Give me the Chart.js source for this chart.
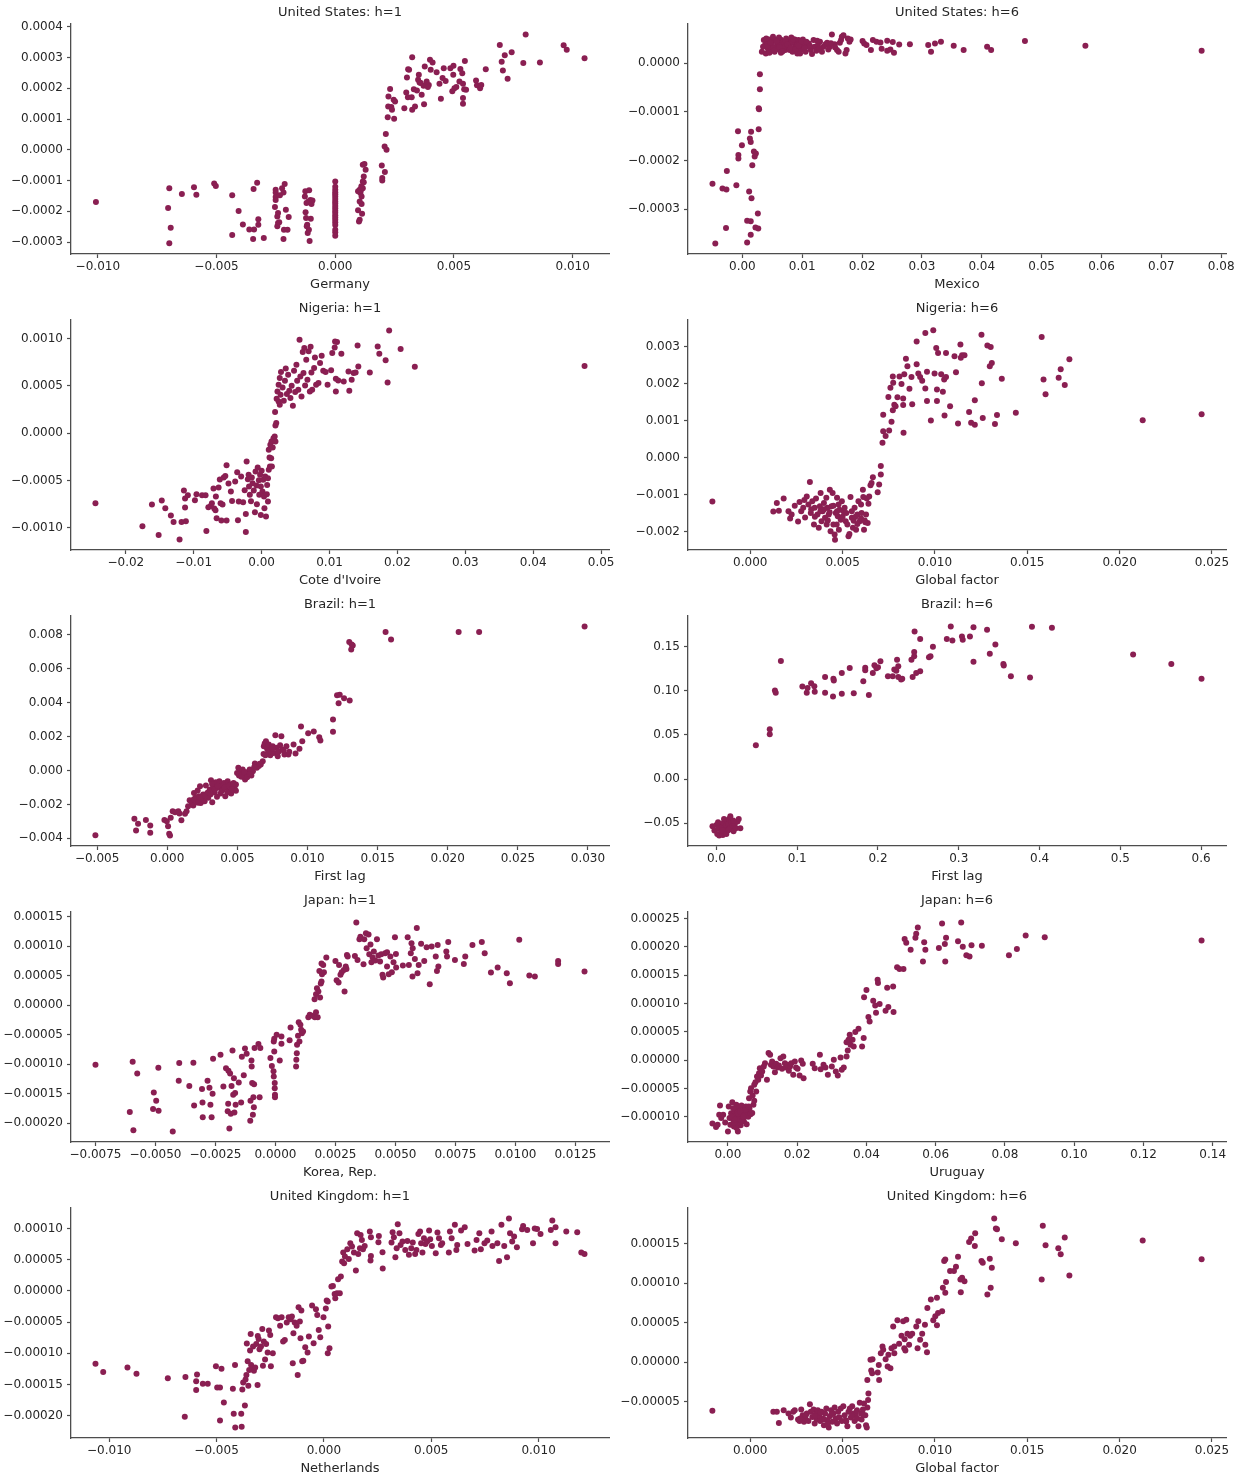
<!DOCTYPE html>
<html>
<head>
<meta charset="utf-8">
<script src="https://cdn.jsdelivr.net/npm/chart.js@4.4.1/dist/chart.umd.min.js"></script>
<style>
  html, body { margin: 0; padding: 0; background: #ffffff; }
  #fig { position: relative; width: 1245px; height: 1477px; }
  #fig canvas { position: absolute; }
</style>
</head>
<body>
<div id="fig"></div>
<script>
// ---- Responses (y) against the selected regressor (x), one list per panel ----

const usH1 = [
  [-0.01008,-0.000170],[-0.00699,-0.000125],[-0.00704,-0.000189],[-0.00693,-0.000254],[-0.00699,-0.000304],
  [-0.00646,-0.000144],[-0.00595,-0.000122],[-0.00585,-0.000146],[-0.0051,-0.00011],[-0.00503,-0.000118],
  [-0.00434,-0.000148],[-0.00434,-0.000277],[-0.00407,-0.000199],[-0.00389,-0.000243],[-0.00362,-0.000259],
  [-0.00346,-0.00029],[-0.00342,-0.000259],[-0.00344,-0.000128],[-0.00329,-0.000107],[-0.00324,-0.000226],
  [-0.00324,-0.000244],[-0.00301,-0.000287],
  [-0.00251,-0.00013],[-0.00251,-0.000139],[-0.00251,-0.000154],[-0.00251,-0.000163],[-0.00254,-0.000186],
  [-0.00244,-0.000217],[-0.00241,-0.000238],[-0.00244,-0.000249],[-0.00241,-0.000206],[-0.00233,-0.000148],
  [-0.00224,-0.000125],[-0.00218,-0.000139],[-0.00213,-0.000111],[-0.00216,-0.00026],[-0.00208,-0.000195],
  [-0.00201,-0.00026],[-0.00218,-0.00029],[-0.00196,-0.000219],[-0.00236,-0.000236],
  [-0.00126,-0.000135],[-0.0011,-0.000132],[-0.00128,-0.000152],[-0.00121,-0.000173],[-0.00113,-0.000168],
  [-0.00105,-0.000163],[-0.00096,-0.000165],[-0.00125,-0.000203],[-0.00118,-0.000244],[-0.0012,-0.000249],
  [-0.00116,-0.000271],[-0.00103,-0.000224],[-0.00108,-0.000297],[-0.00111,-0.00026],[-0.00123,-0.000222],
  [-0.001,-0.000176],
  [0,-0.000103],[0,-0.00012],[0,-0.00013],[0,-0.000138],[0,-0.000145],[0,-0.000152],[0,-0.00016],
  [0,-0.000168],[0,-0.000175],[0,-0.000183],[0,-0.00019],[0,-0.000198],[0,-0.000205],[0,-0.000213],
  [0,-0.00022],[0,-0.000228],[0,-0.000236],[0,-0.000245],[0,-0.00026],[0,-0.000268],[0,-0.00028],
  [0.00116,-0.000049],[0.00123,-0.000046],[0.00128,-0.000065],[0.0012,-0.000087],[0.00116,-0.000103],
  [0.0011,-0.000119],[0.00103,-0.00013],[0.00096,-0.000135],[0.00106,-0.000141],[0.00111,-0.000152],
  [0.00103,-0.000168],[0.00111,-0.000176],[0.00096,-0.000197],[0.00113,-0.000208],[0.00103,-0.000228],
  [0.001,-0.000233],[0.0012,-0.000106],[0.00108,-0.000132],[0.00116,-0.000125],
  [0.00196,-0.000051],[0.00209,-0.000072],[0.00198,-0.000092],[0.00198,-0.0001],[0.00213,0.000051],
  [0.00208,0.000011],[0.00216,0.0],[0.00221,0.000106],[0.00248,0.000101],
  [0.00224,0.000173],[0.00231,0.000198],[0.00223,0.000141],[0.00236,0.000139],[0.00246,0.000163],
  [0.00252,0.000157],[0.00239,0.00013],[0.00291,0.000135],[0.00299,0.000186],[0.00302,0.000235],
  [0.00307,0.000262],[0.00324,0.000301],[0.00306,0.000171],[0.00324,0.00013],[0.00336,0.000141],
  [0.00322,0.000171],[0.00344,0.000193],[0.00352,0.000244],[0.00355,0.000219],[0.00364,0.000179],
  [0.00374,0.000148],[0.00377,0.000271],[0.00399,0.000293],[0.0041,0.000284],[0.00394,0.000211],
  [0.00385,0.000222],[0.00402,0.00026],[0.00427,0.000252],[0.00439,0.000215],[0.00445,0.000166],
  [0.00452,0.000233],[0.00457,0.000265],[0.00465,0.000224],[0.00485,0.000265],[0.00498,0.000273],
  [0.00502,0.0002],[0.00497,0.000244],[0.00493,0.00019],[0.0051,0.000204],[0.00527,0.000263],
  [0.00535,0.000249],[0.00546,0.000289],[0.00523,0.000222],[0.00538,0.000215],[0.00543,0.000197],
  [0.00551,0.000195],[0.00538,0.000168],[0.00538,0.00015],[0.00593,0.000225],[0.00597,0.00021],
  [0.0061,0.0002],[0.00615,0.000211],[0.00634,0.000262],[0.00693,0.000341],[0.00701,0.000286],
  [0.00706,0.000258],[0.00714,0.000307],[0.00726,0.000231],[0.00743,0.000317],[0.00792,0.000282],
  [0.00802,0.000375],[0.00862,0.000284],[0.00962,0.00034],[0.00975,0.000325],[0.0105,0.000298],
  [0.0036,0.000217],[0.00372,0.000208],[0.0039,0.000204],[0.00349,0.000228],[0.00311,0.00026],
  [0.00331,0.000197]
];

const usH6 = [
  [-0.00499,-0.000248],[-0.00452,-0.000371],[-0.00332,-0.000258],[-0.00266,-0.00026],[-0.00259,-0.000222],
  [-0.00273,-0.000339],[-0.001,-0.000251],[-0.00073,-0.00014],[-0.00066,-0.000189],[-0.00066,-0.000196],
  [-0.00007,-0.000169],[0.0008,-0.000369],[0.0008,-0.000324],[0.00113,-0.000264],[0.0014,-0.000325],
  [0.0014,-0.000353],[0.00146,-0.000141],[0.00126,-0.000155],[0.0014,-0.000162],[0.00153,-0.000278],
  [0.00166,-0.00021],[0.00193,-0.000182],[0.00206,-0.000192],[0.00226,-0.000186],[0.00219,-0.000338],
  [0.00259,-0.000309],[0.00266,-0.00034],[0.00273,-0.000136],[0.00273,-0.000093],[0.00279,-0.000095],
  [0.00293,-0.000054],[0.00293,-0.000023],
  [0.00326,2.33e-5],[0.00359,4.73e-5],[0.00379,3.70e-5],[0.00392,1.99e-5],[0.00412,4.18e-5],[0.00426,3.01e-5],
  [0.00445,4.86e-5],[0.00465,2.67e-5],[0.00479,3.70e-5],[0.00499,4.38e-5],[0.00519,3.22e-5],[0.00539,2.33e-5],
  [0.00559,4.73e-5],[0.00578,3.70e-5],[0.00598,4.18e-5],[0.00618,2.81e-5],[0.00638,4.86e-5],[0.00658,3.36e-5],
  [0.00678,4.38e-5],[0.00698,4.04e-5],[0.00718,2.67e-5],[0.00738,3.49e-5],[0.00758,4.59e-5],[0.00778,3.01e-5],
  [0.00798,4.04e-5],[0.00818,5.27e-5],[0.00838,2.33e-5],[0.00858,4.38e-5],[0.00878,3.36e-5],[0.00898,3.90e-5],
  [0.00918,1.99e-5],[0.00938,4.73e-5],[0.00957,3.01e-5],[0.00977,4.38e-5],[0.00997,3.70e-5],[0.01017,2.81e-5],
  [0.01037,4.18e-5],[0.01057,2.33e-5],[0.01077,3.49e-5],[0.0111,4.04e-5],[0.01144,2.67e-5],[0.01164,1.85e-5],
  [0.0119,4.73e-5],[0.0121,3.36e-5],[0.01237,2.53e-5],[0.01263,3.70e-5],[0.01297,4.38e-5],[0.0133,2.33e-5],
  [0.01356,3.36e-5],[0.0139,3.90e-5],[0.01416,4.18e-5],[0.01436,2.81e-5],[0.01463,3.36e-5],[0.01496,5.89e-5],
  [0.01543,3.90e-5],[0.01582,2.67e-5],[0.01609,2.33e-5],[0.01629,4.18e-5],[0.01649,4.73e-5],[0.01662,5.41e-5],
  [0.01689,5.75e-5],[0.01722,1.99e-5],[0.01742,2.67e-5],[0.01762,5.07e-5],[0.01789,4.38e-5],[0.01809,4.86e-5],
  [0.00346,3.36e-5],[0.00399,5.07e-5],[0.00452,2.12e-5],[0.00512,5.41e-5],[0.00565,2.81e-5],[0.00612,5.27e-5],
  [0.00645,2.12e-5],[0.00691,3.22e-5],[0.00731,5.07e-5],[0.00791,2.67e-5],[0.00831,4.38e-5],[0.00878,4.86e-5],
  [0.00924,3.84e-5],[0.00964,1.99e-5],[0.01011,4.86e-5],
  [0.0042,3.5e-5],[0.0047,4.2e-5],[0.0053,2.6e-5],[0.0057,4.5e-5],[0.0062,3.3e-5],[0.0067,2.4e-5],
  [0.0072,4.6e-5],[0.0075,3.8e-5],[0.0081,3.1e-5],[0.0085,4.9e-5],[0.0089,2.9e-5],[0.0094,3.6e-5],
  [0.0099,4.5e-5],[0.0104,3.1e-5],[0.0107,4.4e-5],[0.0113,3.5e-5],[0.0125,4.6e-5],[0.0128,3.0e-5],
  [0.0148,4.1e-5],[0.0155,3.2e-5],
  [0.02008,4.52e-5],[0.02035,4.04e-5],[0.02074,3.70e-5],[0.02148,2.67e-5],[0.02181,4.73e-5],[0.02241,4.38e-5],
  [0.02307,4.25e-5],[0.02327,2.95e-5],[0.0242,4.59e-5],[0.0242,2.53e-5],[0.02513,4.32e-5],[0.02473,2.81e-5],
  [0.02533,2.12e-5],[0.0262,3.84e-5],[0.02799,3.90e-5],[0.03105,3.70e-5],[0.03152,2.33e-5],[0.03218,4.04e-5],
  [0.03318,4.38e-5],[0.03531,3.56e-5],[0.03697,2.67e-5],[0.04089,3.36e-5],[0.04156,2.67e-5],[0.04721,4.52e-5],
  [0.05731,3.56e-5],[0.07673,2.53e-5]
];

const ngH1 = [
  [-0.02448,-0.000739],[-0.01756,-0.000982],[-0.01616,-0.000753],[-0.01517,-0.001074],[-0.01471,-0.000711],
  [-0.01419,-0.000792],[-0.01337,-0.00087],[-0.01297,-0.000937],[-0.01209,-0.001123],[-0.0118,-0.000937],
  [-0.01145,-0.000606],[-0.01128,-0.00069],[-0.01128,-0.000785],[-0.01116,-0.00093],[-0.01087,-0.000655],
  [-0.00983,-0.000708],[-0.0096,-0.000644],[-0.00878,-0.000655],[-0.00826,-0.000655],[-0.00814,-0.001032],
  [-0.00785,-0.000782],[-0.0075,-0.000768],[-0.00733,-0.000739],[-0.00709,-0.000585],[-0.00698,-0.000796],
  [-0.0068,-0.000813],[-0.00674,-0.000669],[-0.00663,-0.000898],[-0.00634,-0.000574],[-0.00616,-0.000489],
  [-0.00605,-0.000739],[-0.00593,-0.000922],[-0.00576,-0.000753],[-0.00558,-0.000468],[-0.00535,-0.000451],
  [-0.00517,-0.000338],[-0.00517,-0.000922],[-0.00488,-0.000532],[-0.00453,-0.000616],[-0.00436,-0.000715],
  [-0.0039,-0.000511],[-0.0036,-0.000412],[-0.00349,-0.000919],[-0.00337,-0.000722],[-0.00302,-0.000458],
  [-0.00273,-0.000729],[-0.0025,-0.000602],[-0.00233,-0.001042],[-0.00233,-0.000852],[-0.00221,-0.000299],
  [-0.00203,-0.000486],[-0.00192,-0.00044],[-0.00186,-0.000563],[-0.00174,-0.000651],[-0.00157,-0.000718],
  [-0.00145,-0.000468],[-0.00134,-0.000528],[-0.00116,-0.000606],[-0.00099,-0.000834],[-0.0009,-0.000405],
  [-0.00076,-0.000553],[-0.0007,-0.00075],[-0.00058,-0.000363],[-0.00041,-0.000496],[-0.00035,-0.000651],
  [-0.00023,-0.00044],[-0.00012,-0.000863],[-0.00012,-0.000563],[0.0,-0.000398],[0.00012,-0.000616],
  [0.00023,-0.000493],[0.00035,-0.000669],[0.00041,-0.000792],[0.00052,-0.000458],[0.00064,-0.00088],
  [0.00076,-0.000644],[0.00081,-0.000546],[0.00093,-0.000722],[0.00093,-0.000475],[0.00105,-0.000387],
  [0.00122,-0.000352],[0.00116,-0.000257],[0.0014,-0.000264],[0.00151,-0.000352],[0.00105,-0.000176],
  [0.00128,-0.000123],[0.00145,-0.000088],[0.00163,-0.000151],[0.00174,-0.000053],[0.00192,-0.000035],
  [0.00203,-0.000088],[0.00203,0.000081],[0.00215,0.000106],[0.00198,0.000222],[0.0025,0.000334],
  [0.00267,0.000299],[0.00221,0.000363],[0.00233,0.00044],[0.0025,0.000511],[0.00267,0.000581],
  [0.00285,0.000644],[0.00279,0.000405],[0.00308,0.000482],[0.00326,0.000342],[0.00343,0.000553],
  [0.00355,0.000683],[0.00372,0.000412],[0.0039,0.000616],[0.00407,0.000447],[0.00424,0.00037],
  [0.00442,0.0005],[0.0046,0.000289],[0.00477,0.000658],[0.00494,0.000433],[0.00512,0.000722],
  [0.00523,0.000553],[0.0054,0.000458],[0.00558,0.000986],[0.0057,0.000599],[0.00587,0.000387],
  [0.00605,0.000856],[0.00616,0.000634],[0.00628,0.000898],[0.0064,0.000504],[0.00657,0.000775],
  [0.00674,0.000563],[0.00692,0.000863],[0.0071,0.00044],[0.00721,0.000912],[0.00733,0.000641],
  [0.00744,0.000458],[0.00773,0.000687],[0.00785,0.000799],[0.00802,0.000511],[0.00837,0.000528],
  [0.0086,0.000739],[0.00884,0.000817],[0.00907,0.000658],[0.00942,0.000644],[0.00971,0.000511],
  [0.01023,0.000665],[0.0104,0.000845],[0.01076,0.000905],[0.01081,0.000968],[0.01093,0.000574],
  [0.01093,0.00044],[0.0111,0.000961],[0.01128,0.000556],[0.01174,0.000838],[0.01209,0.000546],
  [0.01279,0.000651],[0.01291,0.000447],[0.01326,0.000563],[0.01355,0.000634],[0.01384,0.000641],
  [0.01413,0.000926],[0.01424,0.000704],[0.01593,0.000641],[0.01709,0.000915],[0.01733,0.000838],
  [0.01826,0.000768],[0.01855,0.000535],[0.01878,0.001084],[0.02047,0.000887],[0.02256,0.000701],
  [0.04756,0.000708]
];

const ngH6 = [
  [-0.00205,-0.00119],
  [0.00125,-0.00146],[0.00144,-0.00123],[0.00155,-0.00144],[0.00181,-0.00111],[0.00207,-0.00145],
  [0.00216,-0.00165],[0.00224,-0.00154],[0.00241,-0.0013],[0.00259,-0.00173],[0.00267,-0.0012],
  [0.00276,-0.00145],[0.00287,-0.00136],[0.00297,-0.00162],[0.00306,-0.00105],[0.00315,-0.00127],
  [0.00323,-0.00066],[0.00328,-0.0015],[0.00336,-0.00118],[0.00345,-0.00181],[0.00349,-0.00136],
  [0.00356,-0.00111],[0.00364,-0.00154],[0.00371,-0.0019],[0.00377,-0.00132],[0.00386,-0.00172],
  [0.00392,-0.00145],[0.00399,-0.00123],[0.00405,-0.00163],[0.00412,-0.00109],[0.00418,-0.00136],
  [0.00425,-0.00154],[0.00431,-0.00087],[0.00435,-0.00199],[0.0044,-0.00132],[0.00446,-0.00096],
  [0.0045,-0.00181],[0.00457,-0.00208],[0.00459,-0.00222],[0.00463,-0.0015],[0.0047,-0.00109],
  [0.00474,-0.00159],[0.00478,-0.00127],[0.00483,-0.00141],[0.0049,-0.00168],[0.00496,-0.00118],
  [0.00504,-0.00145],[0.00511,-0.00136],[0.00517,-0.00172],[0.00526,-0.00181],[0.00532,-0.00213],
  [0.00537,-0.00207],[0.00543,-0.00107],[0.0055,-0.00163],[0.00556,-0.0019],[0.00565,-0.00136],
  [0.00573,-0.00195],[0.0058,-0.00154],[0.00586,-0.00118],[0.00593,-0.00172],[0.006,-0.00127],
  [0.00603,-0.0015],[0.0061,-0.00087],[0.00612,-0.00107],[0.00616,-0.00195],[0.00623,-0.00175],
  [0.00627,-0.00154],[0.00631,-0.00111],[0.00636,-0.00177],[0.0064,-0.00125],[0.00644,-0.00105],
  [0.00651,-0.00075],[0.00657,-0.00069],[0.00664,-0.00053],[0.0069,-0.00094],[0.00698,-0.00073],
  [0.00707,-0.00046],[0.00707,-0.00023],[0.00293,-0.00115],[0.00381,-0.00096],[0.00414,-0.00181],
  [0.00468,-0.00181],[0.0056,-0.00171],
  [0.0038,-0.00145],[0.004,-0.0014],[0.0043,-0.00148],[0.0045,-0.0013],[0.0047,-0.00145],[0.005,-0.0016],
  [0.0052,-0.0015],[0.0055,-0.00145],[0.0057,-0.0016],[0.006,-0.00165],[0.0062,-0.0017],[0.0035,-0.0016],
  [0.0033,-0.0014],[0.0042,-0.0017],[0.0048,-0.00195],[0.0058,-0.0018],
  [0.00716,0.0004],[0.0072,0.00071],[0.0072,0.00116],[0.00733,0.00058],[0.00752,0.00073],
  [0.00748,0.00164],[0.00759,0.00189],[0.00765,0.00097],[0.00772,0.00128],[0.00774,0.00202],
  [0.00772,0.00219],[0.0078,0.00143],[0.00787,0.00139],[0.00797,0.00163],[0.00808,0.00219],
  [0.00819,0.00199],[0.00828,0.0016],[0.00828,0.00142],[0.0083,0.00067],[0.00834,0.00225],
  [0.00843,0.00267],[0.00851,0.00247],[0.00862,0.00186],[0.00873,0.00218],[0.00877,0.00144],
  [0.00901,0.00314],[0.00901,0.00252],[0.0091,0.00227],[0.0092,0.00218],[0.00931,0.00208],
  [0.00948,0.00337],[0.00948,0.00187],[0.00957,0.00232],[0.00957,0.00153],[0.00978,0.001],
  [0.00991,0.00344],[0.00998,0.00227],[0.01007,0.00296],[0.01011,0.00153],[0.01011,0.00184],
  [0.01017,0.00283],[0.01034,0.00225],[0.01043,0.00178],[0.0105,0.00211],[0.01052,0.00114],
  [0.0106,0.00283],[0.0106,0.00218],[0.01082,0.00139],[0.01106,0.00274],[0.01114,0.00231],
  [0.01125,0.00092],[0.01138,0.00306],[0.0114,0.0027],[0.01147,0.00277],[0.0116,0.00277],
  [0.01185,0.00123],[0.01196,0.00094],[0.01216,0.00155],[0.01216,0.00089],[0.01252,0.00332],
  [0.01254,0.00201],[0.01259,0.00107],[0.01284,0.00303],[0.01302,0.00299],[0.01297,0.00247],
  [0.01308,0.00256],[0.01325,0.00091],[0.01336,0.00115],[0.01362,0.00213],[0.01438,0.00121],
  [0.01578,0.00326],[0.01588,0.00211],[0.01599,0.00171],[0.0167,0.00216],[0.01681,0.00239],
  [0.01703,0.00196],[0.01728,0.00266],[0.02125,0.00101],[0.02444,0.00117]
];

const brH1 = [
  [-0.00512,-0.00381],[-0.00234,-0.00285],[-0.00222,-0.00354],[-0.00208,-0.00314],[-0.00152,-0.00291],
  [-0.00121,-0.00324],[-0.00121,-0.00367],[-0.0002,-0.00291],[-0.00003,-0.00299],[0.00006,-0.00328],
  [0.00014,-0.00373],[0.0002,-0.00383],[0.00025,-0.00279],[0.00039,-0.0024],[0.00056,-0.00246],
  [0.00079,-0.0024],[0.00087,-0.00253],[0.00101,-0.00293],[0.00127,-0.00255],[0.00138,-0.0024],
  [0.00149,-0.0021],[0.0016,-0.00175],[0.00175,-0.00191],[0.00186,-0.00206],[0.00191,-0.00132],
  [0.00203,-0.00161],[0.00211,-0.00181],[0.00217,-0.00118],[0.00225,-0.00151],[0.00234,-0.00092],
  [0.00239,-0.00191],[0.00251,-0.00167],[0.00256,-0.00141],[0.00267,-0.00181],[0.00276,-0.00088],
  [0.00284,-0.00136],[0.00293,-0.00161],[0.00304,-0.00112],[0.00312,-0.00057],[0.00321,-0.00187],
  [0.00329,-0.00092],[0.00338,-0.00128],[0.00346,-0.00069],[0.00355,-0.00155],[0.00363,-0.00102],
  [0.00372,-0.00063],[0.0038,-0.00136],[0.00389,-0.00088],[0.00397,-0.00112],[0.00405,-0.00073],
  [0.00414,-0.00151],[0.00422,-0.00096],[0.00431,-0.00063],[0.00439,-0.00122],[0.00448,-0.00083],
  [0.00456,-0.00136],[0.00465,-0.00102],[0.00473,-0.00073],[0.00481,-0.00108],[0.0049,-0.00083],
  [0.00498,-0.00014],[0.00507,0.00016],[0.00512,-0.00029],[0.00521,-0.00004],[0.00529,-0.00037],
  [0.00538,0.00006],[0.00546,-0.00024],[0.00555,-0.00053],[0.00563,-0.0001],[0.00572,-0.00033],
  [0.0058,-0.00018],[0.00588,0.00006],[0.006,-0.00029],[0.00611,-0.00004],[0.00625,0.00041],
  [0.00639,0.00016],[0.00653,0.00026],[0.00667,0.00035],[0.00681,0.00055],[0.00687,0.00098],
  [0.00689,0.00143],[0.00695,0.00159],[0.00704,0.00173],[0.00712,0.00128],[0.00724,0.00153],
  [0.00735,0.0009],[0.00743,0.00124],[0.00752,0.00143],[0.0076,0.00104],[0.00771,0.00208],
  [0.0078,0.00134],[0.00788,0.00084],[0.00797,0.00114],[0.00805,0.00149],[0.00814,0.00202],
  [0.00822,0.00124],[0.00836,0.00094],[0.0085,0.00143],[0.00864,0.00094],[0.00901,0.00153],
  [0.00915,0.001],[0.00943,0.00128],[0.00954,0.00259],[0.00963,0.00173],[0.01005,0.0022],
  [0.01045,0.0023],[0.01084,0.00196],[0.01092,0.00177],[0.01182,0.00301],[0.01182,0.00228],
  [0.01211,0.00444],[0.0123,0.00446],[0.01222,0.00397],[0.01261,0.00426],[0.01301,0.00413],
  [0.01298,0.00758],[0.01315,0.00743],[0.01323,0.00737],[0.01312,0.00713],[0.01557,0.00817],
  [0.01596,0.00772],[0.02078,0.00817],[0.02224,0.00817],[0.02976,0.00849],
  [0.0032,-0.0008],[0.0034,-0.0011],[0.0036,-0.0009],[0.0039,-0.0012],[0.0041,-0.001],[0.0043,-0.0013],
  [0.0044,-0.0009],[0.0046,-0.0011],[0.0047,-0.0008],[0.0049,-0.0012],[0.0051,-0.0002],[0.0053,-0.0003],
  [0.0055,-0.0001],[0.0057,-0.0004],[0.0059,-0.0002],[0.0019,-0.0017],[0.0022,-0.0019],[0.0024,-0.0016],
  [0.0027,-0.0015],[0.0029,-0.0013],[0.0031,-0.0014],[0.0072,0.0011],[0.0075,0.0013],[0.0079,0.0011],
  [0.0083,0.0012],[0.0087,0.0011],[0.007,0.0009],[0.0062,0.0002],[0.0066,0.0004]
];

const brH6 = [
  [-0.0049,-0.0533],[-0.0025,-0.0582],[0.0,-0.0518],[0.001,-0.0619],[0.0025,-0.0556],[0.0034,-0.0638],
  [0.0044,-0.0507],[0.0059,-0.0593],[0.0069,-0.0544],[0.0079,-0.0631],[0.0089,-0.0495],[0.0099,-0.0571],
  [0.0108,-0.0608],[0.0118,-0.0526],[0.0128,-0.0469],[0.0138,-0.0582],[0.0148,-0.0507],[0.0158,-0.045],
  [0.0167,-0.0556],[0.0172,-0.042],[0.0182,-0.0488],[0.0197,-0.0533],[0.0212,-0.0589],[0.0227,-0.0507],
  [0.0241,-0.0556],[0.0261,-0.048],[0.0276,-0.045],[0.0296,-0.0556],[0.002,-0.0488],[0.0074,-0.0582],
  [0.0123,-0.0619],[0.0153,-0.0571],[0.0207,-0.0469],[0.0094,-0.045],
  [0.0488,0.0383],[0.066,0.0563],[0.066,0.0507],[0.0724,0.1002],[0.0734,0.0976],[0.0798,0.1336],
  [0.1064,0.1047],[0.1118,0.0976],[0.1128,0.1032],[0.1172,0.1085],[0.1212,0.1051],[0.1217,0.0987],
  [0.1345,0.1156],[0.1345,0.0976],[0.1448,0.1134],[0.1453,0.1115],[0.1443,0.0935],[0.1552,0.1201],
  [0.1552,0.0965],[0.165,0.1258],[0.17,0.0972],[0.1818,0.1107],[0.1842,0.1261],[0.1842,0.1231],
  [0.1887,0.0953],[0.1936,0.1201],[0.1956,0.1288],[0.198,0.1254],[0.2,0.1265],[0.203,0.1333],
  [0.2123,0.1164],[0.2182,0.1164],[0.2202,0.1239],[0.2227,0.1227],[0.2236,0.1351],[0.2251,0.1156],
  [0.2251,0.1276],[0.2286,0.1126],[0.23,0.1134],[0.2414,0.1351],[0.2429,0.1156],[0.2448,0.1438],
  [0.2448,0.1389],[0.2453,0.167],[0.2473,0.1201],[0.2522,0.122],[0.2522,0.1584],[0.2631,0.1378],
  [0.265,0.1389],[0.268,0.1498],[0.2852,0.1584],[0.2901,0.1727],[0.2921,0.1569],[0.3039,0.1614],
  [0.3049,0.1577],[0.3138,0.1614],[0.3182,0.1719],[0.3182,0.1329],[0.335,0.1689],[0.3384,0.1419],
  [0.3453,0.1524],[0.3552,0.1303],[0.3557,0.1284],[0.3645,0.1164],[0.3882,0.1149],[0.3906,0.1723],
  [0.4153,0.1712],[0.5158,0.1411],[0.5631,0.1303],[0.6005,0.1134]
];

const jpH1 = [
  [-0.0075,-0.000101],[-0.00595,-0.0000959],[-0.00576,-0.000116],[-0.00607,-0.000181],[-0.00592,-0.000212],
  [-0.00507,-0.000148],[-0.00497,-0.000162],[-0.0051,-0.000176],[-0.00487,-0.000179],[-0.00488,-0.000106],
  [-0.00428,-0.000214],[-0.00401,-0.0000982],[-0.00403,-0.000128],[-0.00359,-0.000137],[-0.00342,-0.0000976],
  [-0.00339,-0.00017],[-0.00306,-0.000142],[-0.00304,-0.000165],[-0.00303,-0.00019],[-0.00283,-0.000128],
  [-0.00275,-0.00014],[-0.00271,-0.000169],[-0.00266,-0.00019],[-0.00262,-0.00015],[-0.0026,-0.0000909],
  [-0.00229,-0.0000841],[-0.00217,-0.000138],[-0.00206,-0.000107],[-0.00197,-0.000167],[-0.00199,-0.00018],
  [-0.00196,-0.000111],[-0.00192,-0.000209],[-0.00189,-0.000116],[-0.00186,-0.000184],[-0.00183,-0.000137],
  [-0.00179,-0.0000767],[-0.00176,-0.000152],[-0.00173,-0.000124],[-0.00171,-0.000182],[-0.00168,-0.000149],
  [-0.00166,-0.000169],[-0.00153,-0.000131],[-0.00143,-0.000165],[-0.0014,-0.0000875],[-0.00132,-0.000119],
  [-0.00127,-0.0000734],[-0.0012,-0.0000824],[-0.00105,-0.000196],[-0.001,-0.0000937],[-0.00099,-0.000104],
  [-0.00097,-0.000132],[-0.00104,-0.000162],[-0.00094,-0.000186],[-0.00092,-0.000156],[-0.0009,-0.000173],
  [-0.00087,-0.0000728],[-0.00089,-0.000134],[-0.00071,-0.000066],[-0.00066,-0.000156],[-0.00063,-0.0000728],
  [-0.00021,-0.0000897],[-0.00015,-0.000103],[-0.00008,-0.000112],[-0.00007,-0.000121],[-0.00003,-0.000132],
  [-0.00003,-0.000141],[-0.00002,-0.000152],[-0.00002,-0.000156],[-0.00005,-0.0000784],[-0.00007,-0.0000615],
  [-0.00005,-0.000057],[0.00005,-0.0000502],[0.00018,-0.0000937],[0.00025,-0.000053],[0.00025,-0.0000655],
  [0.00059,-0.0000593],[0.00063,-0.0000378],[0.00087,-0.0000926],[0.00086,-0.000104],[0.00089,-0.0000813],
  [0.0009,-0.0000672],[0.00094,-0.0000519],[0.00097,-0.0000288],[0.001,-0.0000615],[0.00104,-0.0000333],
  [0.00107,-0.0000418],[0.0011,-0.0000474],[0.00115,-0.0000446],[0.00137,-0.0000203],[0.00143,-0.0000164],
  [0.00153,-0.0000181],[0.00164,-0.0000203],[0.00169,-0.0000119],[0.00176,-0.0000203],[0.00163,0.0000102],
  [0.00169,0.0000186],[0.00173,0.0000288],[0.00179,0.0000231],[0.00186,0.000013],[0.00189,0.0000367],
  [0.00192,0.0000401],[0.00183,0.0000581],[0.00194,0.0000525],[0.00192,0.0000705],[0.00199,0.0000683],
  [0.00202,0.0000559],[0.00212,0.0000807],[0.0025,0.0000751],[0.00255,0.0000423],[0.00263,0.0000384],
  [0.00265,0.0000683],[0.00271,0.0000514],[0.00276,0.0000559],[0.00285,0.0000598],[0.00288,0.0000231],
  [0.00293,0.0000655],[0.00298,0.0000852],[0.00301,0.0000824],[0.00296,0.0000615],[0.00331,0.0000835],
  [0.00337,0.00014],[0.00342,0.0000767],[0.0035,0.000112],[0.00354,0.000116],[0.00367,0.0000694],
  [0.0037,0.000112],[0.00377,0.000122],[0.0038,0.0000965],[0.00388,0.00012],[0.00391,0.0000863],
  [0.00396,0.000103],[0.004,0.0000728],[0.00405,0.0000807],[0.0041,0.0000909],[0.00416,0.0000756],
  [0.00423,0.000112],[0.00429,0.0000841],[0.00436,0.0000739],[0.00441,0.0000863],[0.00446,0.0000514],
  [0.00449,0.0000468],[0.00457,0.000088],[0.00465,0.0000897],[0.00465,0.0000655],[0.00472,0.0000525],
  [0.00479,0.0000824],[0.00485,0.0000559],[0.00492,0.0000728],[0.00498,0.000115],[0.00502,0.0000869],
  [0.00503,0.0000638],[0.00531,0.0000672],[0.00551,0.000115],[0.00556,0.0000683],[0.00564,0.000088],
  [0.00567,0.000105],[0.00572,0.0000965],[0.00571,0.0000485],[0.00581,0.0000784],[0.00589,0.000131],
  [0.00592,0.0000542],[0.00597,0.0000683],[0.00607,0.000104],[0.0062,0.0000751],[0.0063,0.0000982],
  [0.00643,0.0000356],[0.00651,0.0000993],[0.00668,0.0000824],[0.00673,0.0000581],[0.00676,0.000102],
  [0.00679,0.0000655],[0.00712,0.0000909],[0.00715,0.0000824],[0.0072,0.000107],[0.00748,0.0000768],
  [0.00785,0.00007],[0.00791,0.0000824],[0.00821,0.000102],[0.0086,0.000107],[0.00872,0.000088],
  [0.00898,0.0000553],[0.00926,0.0000638],[0.00964,0.0000542],[0.00977,0.0000372],[0.01016,0.000111],
  [0.01058,0.0000502],[0.01081,0.0000485],[0.01178,0.0000751],[0.01178,0.00007],[0.01288,0.000057]
];

const jpH6 = [
  [-0.00448,-0.000112],[-0.00345,-0.000118],[-0.00299,-0.000114],[-0.00253,-0.0000966],[-0.0023,-0.0000801],
  [-0.00195,-0.000102],[-0.00138,-0.0000966],[-0.0008,-0.00011],[0.0,-0.000126],[0.00023,-0.0000819],
  [0.00046,-0.000102],[0.00069,-0.000114],[0.00092,-0.0000936],[0.00126,-0.0000742],[0.00149,-0.000105],
  [0.00172,-0.000117],[0.00195,-0.0000907],[0.00218,-0.0000983],[0.00241,-0.0000789],[0.00264,-0.00011],
  [0.00287,-0.000126],[0.0031,-0.0000848],[0.00322,-0.000102],[0.00345,-0.0000954],[0.00368,-0.000115],
  [0.00391,-0.0000801],[0.00414,-0.0000995],[0.00437,-0.0000895],[0.0046,-0.000108],[0.00494,-0.0000966],
  [0.00517,-0.0000819],[0.0054,-0.000113],[0.00563,-0.0000907],[0.00586,-0.0001],[0.00621,-0.000086],
  [0.00655,-0.0000954],[0.00701,-0.0000931],[0.00736,-0.0000789],[0.00759,-0.0000718],[0.00241,-0.000102],
  [0.00299,-0.000111],[0.00184,-0.00011],[0.00356,-0.000105],[0.00276,-0.0000919],
  [0.001,-0.0001],[0.002,-0.000105],[0.003,-0.000095],[0.004,-0.000108],[0.005,-0.000088],
  [0.0015,-0.000085],[0.0035,-0.00009],[0.0045,-0.0001],[0.006,-0.000082],[0.0025,-0.00012],
  [0.00609,-0.0000671],[0.00644,-0.0000554],[0.00667,-0.0000495],[0.00713,-0.0000624],[0.00759,-0.0000436],
  [0.00793,-0.0000389],[0.00816,-0.0000554],[0.00839,-0.0000289],[0.00874,-0.0000347],[0.00897,-0.000023],
  [0.0092,-0.0000141],[0.00954,-0.0000271],[0.00989,-0.00002],[0.01034,-0.0000112],[0.01069,-0.0000053],
  [0.01126,-0.0000347],[0.01172,0.0000124],[0.01218,0.0000094],[0.01241,-0.0000082],[0.01276,-0.0000024],
  [0.0131,-0.0000112],[0.01356,-0.0000212],[0.01391,-0.0000065],[0.01437,-0.000013],[0.01471,-0.0000094],
  [0.01517,0.0000035],[0.01563,-0.0000153],[0.01598,0.0000065],[0.01644,-0.0000053],[0.01678,-0.000013],
  [0.01713,-0.0000082],[0.01759,-0.0000188],[0.01793,-0.0000112],[0.01828,-0.0000053],[0.01885,-0.0000259],
  [0.01931,-0.0000024],[0.01966,-0.000013],[0.02011,-0.0000153],[0.02069,-0.0000271],[0.02115,-0.0000006],
  [0.02161,-0.0000065],[0.02184,-0.0000318],[0.02448,-0.0000065],[0.02506,-0.0000141],[0.02655,0.0000094],
  [0.02678,-0.0000159],[0.02759,-0.0000082],[0.02816,-0.000013],[0.02885,-0.0000259],[0.03,-0.0000112],
  [0.03057,0.0000006],[0.03115,-0.00002],[0.03172,-0.0000271],[0.03253,0.0000047],[0.03287,-0.0000171],
  [0.03345,-0.000013],[0.03425,0.0000065],[0.03425,0.0000318],[0.0346,0.0000171],[0.03483,0.0000359],
  [0.03517,0.0000448],[0.0354,0.0000271],[0.03598,0.0000359],[0.03632,0.0000241],[0.03678,0.0000495],
  [0.0377,0.0000554],[0.03874,0.0000241],[0.0392,0.0000389],[0.03931,0.000111],[0.04,0.000124],
  [0.04057,0.000076],[0.04092,0.0000683],[0.04195,0.000105],[0.04253,0.0000966],[0.04276,0.0000836],
  [0.04322,0.000142],[0.04333,0.000136],[0.0438,0.0000989],[0.04552,0.0000872],[0.04598,0.000128],
  [0.04632,0.0000936],[0.0477,0.00013],[0.04782,0.0000848],[0.04885,0.000164],[0.04954,0.000161],
  [0.05069,0.000161],[0.05103,0.000214],[0.05149,0.000207],[0.05276,0.000195],[0.05414,0.000216],
  [0.05437,0.000223],[0.05483,0.000234],[0.05632,0.000174],[0.05667,0.000208],[0.05701,0.000195],
  [0.06092,0.000198],[0.06184,0.000241],[0.06264,0.000205],[0.06276,0.000174],[0.06299,0.000216],
  [0.06644,0.00021],[0.06736,0.000243],[0.06782,0.0002],[0.06885,0.000185],[0.06977,0.000183],
  [0.07034,0.000203],[0.07333,0.000202],[0.08115,0.000185],[0.08345,0.000196],[0.08598,0.00022],
  [0.09149,0.000217],[0.13678,0.000211]
];

const ukH1 = [
  [-0.01064,-0.000117],[-0.01028,-0.00013],[-0.00915,-0.000123],[-0.00873,-0.000133],[-0.00727,-0.00014],
  [-0.00645,-0.000138],[-0.00648,-0.000202],[-0.00591,-0.000134],[-0.00595,-0.000145],[-0.00595,-0.000159],
  [-0.00564,-0.000149],[-0.00541,-0.000149],[-0.00503,-0.000121],[-0.00497,-0.000155],[-0.00484,-0.000155],
  [-0.00484,-0.000208],[-0.00477,-0.000125],[-0.00466,-0.000179],[-0.00424,-0.000157],[-0.0042,-0.000197],
  [-0.00414,-0.000119],[-0.00413,-0.000219],[-0.00383,-0.000218],[-0.00385,-0.000197],[-0.0038,-0.000158],
  [-0.00376,-0.000147],[-0.00368,-0.000184],[-0.00365,-0.000142],[-0.00361,-0.000135],[-0.00359,-0.0000845],
  [-0.00355,-0.000113],[-0.00352,-0.000152],[-0.00348,-0.000127],[-0.00344,-0.0000957],[-0.00341,-0.000069],
  [-0.00339,-0.000119],[-0.00333,-0.000124],[-0.0033,-0.0000893],[-0.00326,-0.000128],[-0.0032,-0.000123],
  [-0.00315,-0.000085],[-0.00309,-0.000151],[-0.00308,-0.0000722],[-0.00304,-0.000077],[-0.003,-0.0000936],
  [-0.00293,-0.0000893],[-0.00287,-0.000061],[-0.00284,-0.00012],[-0.0028,-0.0000813],[-0.00274,-0.00011],
  [-0.00269,-0.000085],[-0.00262,-0.0000989],[-0.00256,-0.0000636],[-0.0025,-0.0000706],[-0.00247,-0.000121],
  [-0.00238,-0.0001],[-0.00223,-0.0000422],[-0.00214,-0.0000439],[-0.00204,-0.0000561],[-0.00197,-0.0000422],
  [-0.0019,-0.0000813],[-0.00182,-0.0000786],[-0.00173,-0.0000508],[-0.00164,-0.0000422],[-0.00155,-0.0000455],
  [-0.00149,-0.0000412],[-0.00145,-0.000116],[-0.00142,-0.0000679],[-0.00136,-0.0000508],[-0.00127,-0.0000561],
  [-0.00122,-0.000135],[-0.00118,-0.0000262],[-0.00112,-0.0000492],[-0.00109,-0.0000759],[-0.00105,-0.0000316],
  [-0.00101,-0.000113],[-0.00096,-0.000112],[-0.00087,-0.0000904],[-0.00076,-0.0000989],[-0.0007,-0.0000733],
  [-0.00055,-0.0000235],[-0.00048,-0.000084],[-0.00037,-0.0000294],[-0.00031,-0.0000385],[-0.00024,-0.0000626],
  [-0.00017,-0.0000743],[-0.00002,-0.0000422],[0.00009,-0.0000283],[0.00013,-0.0000155],[0.00018,-0.0000171],
  [0.0002,-0.0000572],[0.00018,-0.0001],[0.00026,-0.000092],[0.00035,0.000007],[0.00042,0.000008],
  [0.0005,-0.0000048],[0.00053,-0.0000118],[0.00061,-0.0000037],[0.00074,-0.0000037],[0.00066,0.0000187],
  [0.00079,0.000023],[0.00085,0.0000471],[0.0009,0.0000615],[0.00094,0.0000444],[0.00098,0.0000551],
  [0.00109,0.0000668],[0.00116,0.0000513],[0.00123,0.0000765],[0.00131,0.0000711],[0.0014,0.0000615],
  [0.00149,0.0000326],[0.00155,0.0000925],[0.0016,0.0000594],[0.00168,0.0000684],[0.00171,0.0000898],
  [0.00177,0.0000818],[0.00182,0.0000668],[0.0019,0.0000722],[0.00214,0.0000952],[0.00217,0.0000487],
  [0.00219,0.0000561],[0.00219,0.0000861],[0.00254,0.0000781],[0.00256,0.0000882],[0.00273,0.000062],
  [0.00274,0.0000358],[0.00315,0.0000775],[0.0032,0.0000941],[0.00326,0.0000861],[0.00333,0.000054],
  [0.00339,0.0000684],[0.00344,0.000107],[0.00352,0.0000925],[0.00357,0.0000738],[0.00366,0.0000791],
  [0.00379,0.0000658],[0.00389,0.0000802],[0.00396,0.0000578],[0.00407,0.0000684],[0.00414,0.0000775],
  [0.00425,0.0000594],[0.00431,0.0000658],[0.0044,0.0000914],[0.00448,0.0000952],[0.00453,0.0000765],
  [0.00459,0.0000615],[0.00466,0.0000845],[0.00473,0.0000754],[0.00481,0.0000791],[0.0049,0.0000968],
  [0.00495,0.0000829],[0.00503,0.0000722],[0.00521,0.0000604],[0.00529,0.0000936],[0.00536,0.0000845],
  [0.00545,0.0000738],[0.00551,0.0000765],[0.00582,0.0000615],[0.00587,0.0000952],[0.00595,0.0000845],
  [0.0061,0.000106],[0.00617,0.0000658],[0.00621,0.0000738],[0.00639,0.0000968],[0.00656,0.000102],
  [0.00669,0.0000754],[0.00702,0.0000647],[0.00711,0.0000818],[0.00724,0.0000925],[0.00731,0.0000668],
  [0.00748,0.0000765],[0.00761,0.0000807],[0.00781,0.0000952],[0.00785,0.0000722],[0.00808,0.0000765],
  [0.00816,0.0000481],[0.00827,0.000106],[0.0084,0.0000722],[0.00853,0.000054],[0.00862,0.000116],
  [0.00867,0.0000925],[0.00877,0.0000791],[0.00886,0.0000872],[0.00899,0.0000701],[0.00923,0.0000989],
  [0.00928,0.000104],[0.00947,0.0000979],[0.00974,0.0000765],[0.00982,0.0001],[0.00993,0.0000995],
  [0.01009,0.0000914],[0.01057,0.0000979],[0.01064,0.000113],[0.01079,0.000102],[0.01079,0.0000765],
  [0.01129,0.0000952],[0.0118,0.0000941],[0.01199,0.0000615],[0.01214,0.0000594]
];

const ukH6 = [
  [-0.00205,-0.0000614],[0.00125,-0.0000627],[0.00144,-0.0000627],[0.00155,-0.0000767],[0.00181,-0.0000606],
  [0.00207,-0.0000648],[0.0022,-0.0000699],[0.00233,-0.0000627],[0.00241,-0.0000606],[0.00259,-0.0000725],
  [0.00267,-0.0000742],[0.00276,-0.0000597],[0.00284,-0.0000669],[0.00291,-0.0000754],[0.00297,-0.0000712],
  [0.00306,-0.0000648],[0.00315,-0.0000742],[0.00323,-0.000053],[0.00328,-0.0000627],[0.00336,-0.0000691],
  [0.00343,-0.0000597],[0.00349,-0.0000775],[0.00356,-0.0000648],[0.0036,-0.0000725],[0.00366,-0.0000606],
  [0.00373,-0.0000682],[0.00379,-0.0000742],[0.00386,-0.0000627],[0.00392,-0.0000712],[0.00399,-0.0000797],
  [0.00405,-0.0000648],[0.00412,-0.0000585],[0.00418,-0.0000733],[0.00425,-0.0000826],[0.00431,-0.0000682],
  [0.00438,-0.0000606],[0.00444,-0.0000754],[0.0045,-0.0000648],[0.00457,-0.0000572],[0.00463,-0.0000712],
  [0.0047,-0.0000775],[0.00476,-0.0000627],[0.00483,-0.0000699],[0.0049,-0.0000585],[0.00496,-0.0000742],
  [0.00504,-0.0000555],[0.00511,-0.0000669],[0.00517,-0.0000733],[0.00526,-0.0000809],[0.00532,-0.0000627],
  [0.00539,-0.0000585],[0.00545,-0.0000699],[0.00552,-0.0000555],[0.00558,-0.0000648],[0.00565,-0.0000742],
  [0.00571,-0.0000669],[0.00578,-0.0000606],[0.00586,-0.0000809],[0.00593,-0.0000513],[0.006,-0.0000648],
  [0.00603,-0.0000725],[0.0061,-0.0000597],[0.00616,-0.0000521],[0.00623,-0.0000669],[0.00627,-0.0000797],
  [0.00631,-0.0000826],[0.00634,-0.0000572],[0.00638,-0.0000479],[0.0064,-0.0000394],[0.00634,-0.0000225],
  [0.0035,-0.000068],[0.004,-0.000072],[0.0044,-0.000066],[0.0048,-0.00007],[0.0052,-0.000075],
  [0.0055,-0.000068],[0.0058,-0.000071],[0.0061,-0.000066],[0.0042,-0.000078],[0.0038,-0.000064],
  [0.003,-0.000068],[0.0027,-0.000071],
  [0.00651,0.000003],[0.00662,0.0000038],[0.0066,-0.000014],[0.00655,-0.0000106],[0.0069,-0.0000131],
  [0.00698,-0.0000225],[0.00696,-0.0000034],[0.00707,0.0000114],[0.00716,0.0000199],[0.0072,0.0000157],
  [0.00733,0.0000038],[0.00744,-0.0000055],[0.00759,-0.0000076],[0.00748,0.0000093],[0.00765,0.0000178],
  [0.00774,0.0000453],[0.0078,0.0000114],[0.0078,0.0000199],[0.00797,0.000053],[0.00806,0.0000233],
  [0.00819,0.0000335],[0.00828,0.0000517],[0.00834,0.0000178],[0.00836,0.0000292],[0.0084,0.0000148],
  [0.00845,0.0000538],[0.00851,0.000036],[0.0086,0.000022],[0.00866,0.0000335],[0.00877,0.000036],
  [0.00899,0.0000453],[0.00906,0.0000178],[0.0091,0.0000517],[0.0092,0.0000284],[0.00931,0.000036],
  [0.00946,0.0000475],[0.00948,0.000022],[0.00957,0.0000127],[0.00959,0.0000686],[0.00978,0.0000792],
  [0.00991,0.000053],[0.01002,0.000058],[0.01011,0.0000814],[0.01011,0.0000466],[0.01017,0.0000623],
  [0.01039,0.0000644],[0.01043,0.0000941],[0.0105,0.000128],[0.01056,0.00013],[0.01056,0.0000877],
  [0.0106,0.0001013],[0.01082,0.0001153],[0.01103,0.0001153],[0.01114,0.0001208],[0.01125,0.0001335],
  [0.01138,0.0001047],[0.0114,0.0000886],[0.01147,0.0001068],[0.0116,0.0001025],[0.01185,0.0001521],
  [0.01196,0.0001564],[0.01216,0.000147],[0.01218,0.0001631],[0.01252,0.000128],[0.01259,0.0001258],
  [0.01284,0.0000856],[0.01297,0.0001309],[0.01302,0.0000941],[0.01308,0.0001195],[0.01321,0.0001818],
  [0.0133,0.0001691],[0.01336,0.0001682],[0.01362,0.0001555],[0.01438,0.0001504],[0.01578,0.0001047],
  [0.01584,0.0001725],[0.01599,0.0001479],[0.01668,0.0001441],[0.01681,0.0001364],[0.01703,0.0001576],
  [0.01728,0.0001097],[0.02125,0.0001538],[0.02444,0.0001301]
];

// ---- Tick values for each axis ----
const usH1XTicks = [-0.010, -0.005, 0.000, 0.005, 0.010];
const usH1YTicks = [-0.0003, -0.0002, -0.0001, 0.0000, 0.0001, 0.0002, 0.0003, 0.0004];
const usH6XTicks = [0.00, 0.01, 0.02, 0.03, 0.04, 0.05, 0.06, 0.07, 0.08];
const usH6YTicks = [-0.0003, -0.0002, -0.0001, 0.0000];
const ngH1XTicks = [-0.02, -0.01, 0.00, 0.01, 0.02, 0.03, 0.04, 0.05];
const ngH1YTicks = [-0.0010, -0.0005, 0.0000, 0.0005, 0.0010];
const ngH6XTicks = [0.000, 0.005, 0.010, 0.015, 0.020, 0.025];
const ngH6YTicks = [-0.002, -0.001, 0.000, 0.001, 0.002, 0.003];
const brH1XTicks = [-0.005, 0.000, 0.005, 0.010, 0.015, 0.020, 0.025, 0.030];
const brH1YTicks = [-0.004, -0.002, 0.000, 0.002, 0.004, 0.006, 0.008];
const brH6XTicks = [0.0, 0.1, 0.2, 0.3, 0.4, 0.5, 0.6];
const brH6YTicks = [-0.05, 0.00, 0.05, 0.10, 0.15];
const jpH1XTicks = [-0.0075, -0.0050, -0.0025, 0.0000, 0.0025, 0.0050, 0.0075, 0.0100, 0.0125];
const jpH1YTicks = [-0.00020, -0.00015, -0.00010, -0.00005, 0.00000, 0.00005, 0.00010, 0.00015];
const jpH6XTicks = [0.00, 0.02, 0.04, 0.06, 0.08, 0.10, 0.12, 0.14];
const jpH6YTicks = [-0.00010, -0.00005, 0.00000, 0.00005, 0.00010, 0.00015, 0.00020, 0.00025];
const ukH1XTicks = [-0.010, -0.005, 0.000, 0.005, 0.010];
const ukH1YTicks = [-0.00020, -0.00015, -0.00010, -0.00005, 0.00000, 0.00005, 0.00010];
const ukH6XTicks = [0.000, 0.005, 0.010, 0.015, 0.020, 0.025];
const ukH6YTicks = [-0.00005, 0.00000, 0.00005, 0.00010, 0.00015];

// ---- Panel definitions: title, x-axis label, data, axis limits, ticks, label decimals ----
const panels = [
  { title: 'United States: h=1', xLabel: 'Germany', data: usH1, x: [-0.01113, 0.01153], y: [-0.000339, 0.000409],
    xTicks: usH1XTicks, yTicks: usH1YTicks, xDec: 3, yDec: 4 },
  { title: 'United States: h=6', xLabel: 'Mexico', data: usH6, x: [-0.00908, 0.0808], y: [-0.0003925, 0.0000804],
    xTicks: usH6XTicks, yTicks: usH6YTicks, xDec: 2, yDec: 4 },
  { title: 'Nigeria: h=1', xLabel: "Cote d'Ivoire", data: ngH1, x: [-0.02808, 0.05116], y: [-0.001233, 0.001194],
    xTicks: ngH1XTicks, yTicks: ngH1YTicks, xDec: 2, yDec: 4 },
  { title: 'Nigeria: h=6', xLabel: 'Global factor', data: ngH6, x: [-0.00337, 0.02576], y: [-0.0025, 0.00372],
    xTicks: ngH6XTicks, yTicks: ngH6YTicks, xDec: 3, yDec: 3 },
  { title: 'Brazil: h=1', xLabel: 'First lag', data: brH1, x: [-0.00686, 0.0315], y: [-0.00445, 0.00911],
    xTicks: brH1XTicks, yTicks: brH1YTicks, xDec: 3, yDec: 3 },
  { title: 'Brazil: h=6', xLabel: 'First lag', data: brH6, x: [-0.0352, 0.6308], y: [-0.0756, 0.1845],
    xTicks: brH6XTicks, yTicks: brH6YTicks, xDec: 1, yDec: 2 },
  { title: 'Japan: h=1', xLabel: 'Korea, Rep.', data: jpH1, x: [-0.00852, 0.0139], y: [-0.000232, 0.000158],
    xTicks: jpH1XTicks, yTicks: jpH1YTicks, xDec: 4, yDec: 5 },
  { title: 'Japan: h=6', xLabel: 'Uruguay', data: jpH6, x: [-0.01154, 0.14384], y: [-0.0001445, 0.0002615],
    xTicks: jpH6XTicks, yTicks: jpH6YTicks, xDec: 2, yDec: 5 },
  { title: 'United Kingdom: h=1', xLabel: 'Netherlands', data: ukH1, x: [-0.01178, 0.01328], y: [-0.000236, 0.000133],
    xTicks: ukH1XTicks, yTicks: ukH1YTicks, xDec: 3, yDec: 5 },
  { title: 'United Kingdom: h=6', xLabel: 'Global factor', data: ukH6, x: [-0.00337, 0.02576], y: [-0.0000958, 0.000195],
    xTicks: ukH6XTicks, yTicks: ukH6YTicks, xDec: 3, yDec: 5 }
];

// ---- Figure geometry (pixels) ----
const COL_LEFT = [0, 620];
const COL_WIDTH = [620, 625];
const PLOT_LEFT = [71, 68];     // plot-area left edge inside each canvas
const PLOT_RIGHT = [609, 606];  // plot-area right edge inside each canvas
const ROW_HEIGHT = 296;
const PLOT_TOP = 24;
const PLOT_BOTTOM = 254;

const POINT_COLOR = '#8a1f52';
const SPINE_COLOR = '#4d4d4d';
const TEXT_COLOR = '#262626';

Chart.defaults.font.family = "'DejaVu Sans', 'Liberation Sans', sans-serif";
Chart.defaults.color = TEXT_COLOR;

function fmt(v, dec) {
  const s = Math.abs(v) < 1e-12 ? (0).toFixed(dec) : v.toFixed(dec);
  return s.replace('-', '\u2212');
}

// Title drawn centred above each plot area
const panelTitle = {
  id: 'panelTitle',
  afterDraw(chart, args, opts) {
    const { ctx, chartArea } = chart;
    ctx.save();
    ctx.font = "13px 'DejaVu Sans', sans-serif";
    ctx.fillStyle = TEXT_COLOR;
    ctx.textAlign = 'center';
    ctx.textBaseline = 'middle';
    ctx.fillText(opts.text, (chartArea.left + chartArea.right) / 2, chartArea.top - 11);
    ctx.restore();
  }
};

const fig = document.getElementById('fig');

panels.forEach((p, i) => {
  const col = i % 2;
  const row = Math.floor(i / 2);
  const canvas = document.createElement('canvas');
  canvas.width = COL_WIDTH[col];
  canvas.height = ROW_HEIGHT;
  canvas.style.left = COL_LEFT[col] + 'px';
  canvas.style.top = (row * ROW_HEIGHT) + 'px';
  canvas.style.width = COL_WIDTH[col] + 'px';
  canvas.style.height = ROW_HEIGHT + 'px';
  fig.appendChild(canvas);

  const yWidth = PLOT_LEFT[col];
  const xHeight = ROW_HEIGHT - PLOT_BOTTOM;

  new Chart(canvas, {
    type: 'scatter',
    data: {
      datasets: [{
        data: p.data.map(([x, y]) => ({ x, y })),
        backgroundColor: POINT_COLOR,
        borderWidth: 0,
        pointRadius: 3,
        pointHoverRadius: 3
      }]
    },
    options: {
      responsive: false,
      devicePixelRatio: 1,
      animation: false,
      events: [],
      layout: { padding: { left: 0, top: PLOT_TOP, right: COL_WIDTH[col] - PLOT_RIGHT[col], bottom: 0 } },
      plugins: {
        legend: { display: false },
        tooltip: { enabled: false },
        title: { display: false },
        panelTitle: { text: p.title }
      },
      scales: {
        x: {
          type: 'linear',
          position: 'bottom',
          min: p.x[0],
          max: p.x[1],
          afterBuildTicks: s => { s.ticks = p.xTicks.map(v => ({ value: v })); },
          afterFit: s => { s.height = xHeight; s.paddingLeft = 0; s.paddingRight = 0; s.paddingTop = 0; s.paddingBottom = 0; },
          ticks: {
            autoSkip: false, maxRotation: 0, minRotation: 0, padding: 1.5,
            color: TEXT_COLOR, font: { size: 12 },
            callback: v => fmt(v, p.xDec)
          },
          grid: { display: true, drawOnChartArea: false, drawTicks: true, tickLength: 4, tickColor: SPINE_COLOR, tickWidth: 1.2 },
          border: { display: true, color: SPINE_COLOR, width: 1.3 },
          title: { display: true, text: p.xLabel, color: TEXT_COLOR, font: { size: 13 }, padding: { top: 0, bottom: 4 } }
        },
        y: {
          type: 'linear',
          position: 'left',
          min: p.y[0],
          max: p.y[1],
          afterBuildTicks: s => { s.ticks = p.yTicks.map(v => ({ value: v })); },
          afterFit: s => { s.width = yWidth; s.paddingLeft = 0; s.paddingRight = 0; s.paddingTop = 0; s.paddingBottom = 0; },
          ticks: {
            autoSkip: false, padding: 4,
            color: TEXT_COLOR, font: { size: 12 },
            callback: v => fmt(v, p.yDec)
          },
          grid: { display: true, drawOnChartArea: false, drawTicks: true, tickLength: 4, tickColor: SPINE_COLOR, tickWidth: 1.2 },
          border: { display: true, color: SPINE_COLOR, width: 1.3 }
        }
      }
    },
    plugins: [panelTitle]
  });
});
</script>
</body>
</html>
